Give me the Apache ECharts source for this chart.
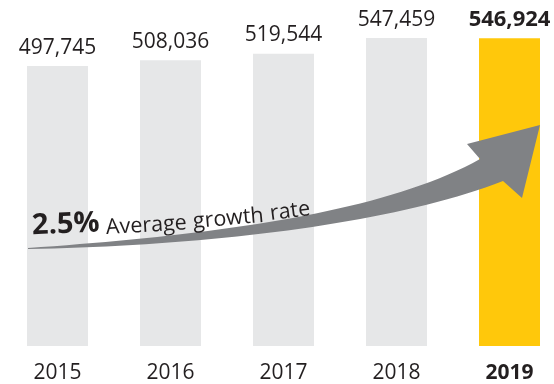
<!DOCTYPE html>
<html>
<head>
<meta charset="utf-8">
<script src="https://cdn.jsdelivr.net/npm/echarts@6/dist/echarts.min.js"></script>
<style>
  html, body { margin: 0; padding: 0; background: #ffffff; }
  #chart { width: 554px; height: 384px; }
</style>
</head>
<body>
<div id="chart"></div>
<script>
// Yearly totals, 2015–2019
const years = ['2015', '2016', '2017', '2018', '2019'];
const totals = [497745, 508036, 519544, 547459, 546924];
const highlightYear = '2019';
const growthRate = '2.5%';
const growthCaption = ['Average', 'growth', 'rate'];

const GREY = '#e6e7e8';
const GOLD = '#ffc80b';
const INK = '#231f20';
const ARROW = '#808285';
const FONT = '"Open Sans", "Noto Sans", sans-serif';

// sample a cubic bezier into points for the arrow outline
function cubic(p0, p1, p2, p3, n) {
  const pts = [];
  for (let i = 0; i <= n; i++) {
    const t = i / n, u = 1 - t;
    pts.push([
      u * u * u * p0[0] + 3 * u * u * t * p1[0] + 3 * u * t * t * p2[0] + t * t * t * p3[0],
      u * u * u * p0[1] + 3 * u * u * t * p1[1] + 3 * u * t * t * p2[1] + t * t * t * p3[1]
    ]);
  }
  return pts;
}

const arrowOutline = []
  .concat(cubic([28, 248], [200, 236], [380, 215], [480, 159], 40))
  .concat([[467, 144], [540, 125], [522, 198]])
  .concat(cubic([503, 181], [390, 225], [200, 246], [28, 249], 40));

const chart = echarts.init(document.getElementById('chart'), null, { renderer: 'canvas' });

const barData = totals.map((v, i) => {
  const hi = years[i] === highlightYear;
  return {
    value: v,
    itemStyle: { color: hi ? GOLD : GREY },
    label: {
      fontWeight: hi ? 'bold' : 'normal',
      fontSize: hi ? 22 : 21,
      letterSpacing: hi ? 0.6 : 0
    }
  };
});

chart.setOption({
  animation: false,
  backgroundColor: '#ffffff',
  grid: { left: 1, right: -12, top: 8.5, bottom: 38, outerBoundsMode: 'none', containLabel: false },
  xAxis: {
    type: 'category',
    data: years,
    axisLine: { show: false },
    axisTick: { show: false },
    axisLabel: {
      interval: 0,
      margin: 17,
      fontFamily: FONT,
      fontSize: 21,
      color: INK,
      formatter: (y) => (y === highlightYear ? '{b|' + y + '}' : y),
      rich: { b: { fontFamily: FONT, fontSize: 21, fontWeight: 'bold', color: INK } }
    }
  },
  yAxis: { type: 'value', min: 0, max: 600000, show: false, splitLine: { show: false } },
  series: [{
    type: 'bar',
    data: barData,
    barWidth: 61,
    label: {
      show: true,
      position: 'top',
      distance: 8,
      fontFamily: FONT,
      color: INK,
      formatter: (p) => p.value.toLocaleString('en-US')
    }
  }],
  graphic: [
    {
      // curved growth arrow sweeping up to the latest year
      type: 'polygon',
      z: 10,
      shape: { points: arrowOutline },
      style: { fill: ARROW }
    },
    {
      type: 'text', z: 11, x: 32, y: 226, rotation: 0.04,
      style: { text: growthRate, font: 'bold 29px ' + FONT, fill: INK, textVerticalAlign: 'middle' }
    },
    {
      type: 'text', z: 11, x: 106, y: 228, rotation: 0.06,
      style: { text: growthCaption[0], font: '21.5px ' + FONT, fill: INK, textVerticalAlign: 'middle' }
    },
    {
      type: 'text', z: 11, x: 193, y: 222, rotation: 0.09,
      style: { text: growthCaption[1], font: '21.5px ' + FONT, fill: INK, textVerticalAlign: 'middle' }
    },
    {
      type: 'text', z: 11, x: 270, y: 214, rotation: 0.13,
      style: { text: growthCaption[2], font: '21.5px ' + FONT, fill: INK, textVerticalAlign: 'middle' }
    }
  ]
});
</script>
</body>
</html>
